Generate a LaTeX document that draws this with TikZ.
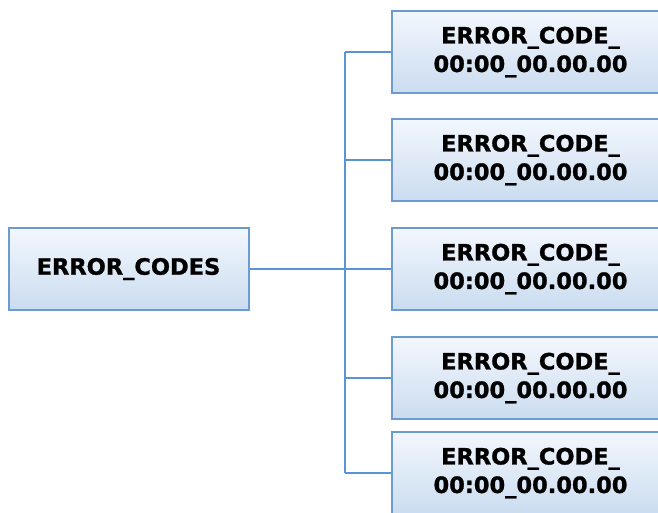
\documentclass[tikz,border=0pt]{standalone}
\usepackage{fontspec}
\setmainfont{DejaVu Sans}[BoldFeatures={FakeBold=1.2}]
\begin{document}
\begin{tikzpicture}[x=1pt,y=-1pt,
  box/.style={draw=boxline, line width=2pt, top color=boxtop, bottom color=boxbot,
    minimum width=277pt, minimum height=82pt, inner sep=0pt, align=center,
    font=\fontsize{22.5}{28.5}\selectfont\bfseries},
  conn/.style={draw=conncol, line width=2.4pt}]
\definecolor{boxline}{HTML}{6C9BD0}
\definecolor{boxtop}{HTML}{F3F7FD}
\definecolor{boxbot}{HTML}{CADCF0}
\definecolor{conncol}{HTML}{5B94D2}
\useasboundingbox (0,0) rectangle (658,512);
\clip (0,0) rectangle (658,512);
\node[box, minimum width=240pt, minimum height=82pt] (root) at (128.5,269) {ERROR\_CODES};
\node[box] (b1) at (530.5,52) {ERROR\_CODE\_\\00:00\_00.00.00};
\node[box] (b2) at (530.5,160) {ERROR\_CODE\_\\00:00\_00.00.00};
\node[box] (b3) at (530.5,269) {ERROR\_CODE\_\\00:00\_00.00.00};
\node[box] (b4) at (530.5,378) {ERROR\_CODE\_\\00:00\_00.00.00};
\node[box] (b5) at (530.5,473) {ERROR\_CODE\_\\00:00\_00.00.00};
\coordinate (j) at (345,269);
\draw[conn] (root.east) -- (j);
\draw[conn] (j |- b1.west) -- (j |- b5.west);
\foreach \b in {b1,b2,b3,b4,b5} \draw[conn] (j |- \b.west) -- (\b.west);
\end{tikzpicture}
\end{document}
